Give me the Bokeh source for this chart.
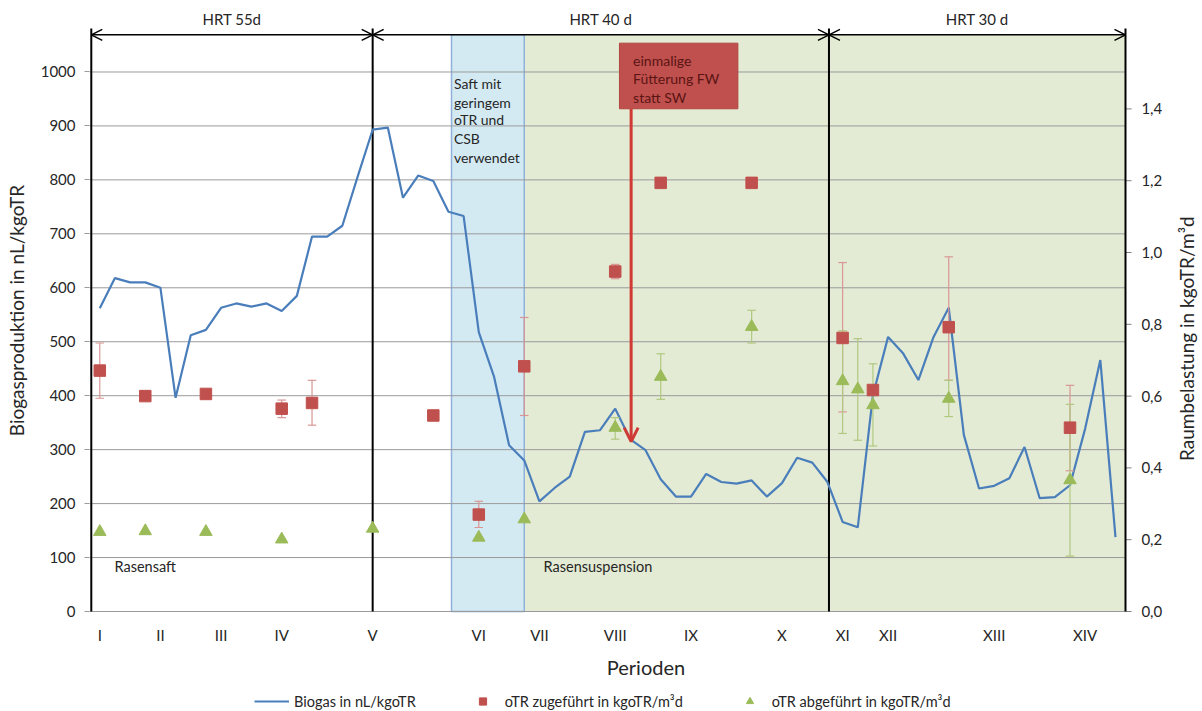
import math
from bokeh.plotting import figure
from bokeh.layouts import column
from bokeh.models import Range1d, FixedTicker, Arrow, OpenHead, Legend, LegendItem
from bokeh.core.properties import value
from bokeh.embed import file_html
from bokeh.resources import INLINE

FONT = "Lato"
TXT = "#262626"

# ---------------- data ----------------
period_idx = [0, 4, 8, 12, 18, 25, 29, 34, 39, 45, 49, 52, 59, 65]
period_lbl = ["I", "II", "III", "IV", "V", "VI", "VII", "VIII", "IX", "X", "XI", "XII", "XIII", "XIV"]

biogas = [562, 618, 610, 610, 600, 396, 512, 522, 563, 571,
          565, 571, 557, 585, 695, 695, 715, 805, 893, 897,
          767, 808, 798, 741, 733, 518, 436, 308, 280, 204,
          229, 250, 333, 336, 376, 319, 299, 245, 213, 213,
          255, 240, 237, 243, 213, 238, 285, 276, 240, 166,
          156, 401, 509, 478, 429, 509, 563, 327, 228, 233,
          247, 305, 210, 212, 234, 339, 466, 138]
biogas_x = list(range(len(biogas)))

zu_x = [0, 3, 7, 12, 14, 22, 25, 28, 34, 37, 43, 49, 51, 56, 64]
zu_y = [0.671, 0.600, 0.606, 0.565, 0.581, 0.546, 0.270, 0.683, 0.947, 1.194, 1.194, 0.762, 0.617, 0.792, 0.512]
zu_lo = [0.594, None, None, 0.540, 0.519, None, 0.234, 0.546, 0.927, None, None, 0.556, None, 0.644, 0.392]
zu_hi = [0.748, None, None, 0.589, 0.644, None, 0.307, 0.819, 0.967, None, None, 0.972, None, 0.988, 0.630]

ab_x = [0, 3, 7, 12, 18, 25, 28, 34, 37, 43, 49, 50, 51, 56, 64]
ab_y = [0.222, 0.224, 0.222, 0.201, 0.231, 0.206, 0.257, 0.512, 0.654, 0.793, 0.642, 0.619, 0.575, 0.593, 0.366]
ab_lo = [None, None, None, None, None, None, None, 0.480, 0.591, 0.748, 0.496, 0.477, 0.461, 0.543, 0.154]
ab_hi = [None, None, None, None, None, None, None, 0.540, 0.718, 0.839, 0.782, 0.760, 0.690, 0.644, 0.577]

left_ticks = list(range(0, 1001, 100))
right_ticks = [0.0, 0.2, 0.4, 0.6, 0.8, 1.0, 1.2, 1.4]
right_tick_lbl = [f"{t:.1f}".replace(".", ",") for t in right_ticks]
right_title = "Raumbelastung in kgoTR/m³d"

hrt_bounds = [-0.561, 18, 48.1, 67.66]
hrt_labels = ["HRT 55d", "HRT 40 d", "HRT 30 d"]
blue_span = [23.2, 28.0]
green_span = [28.0, 67.66]

legend_labels = ["Biogas in nL/kgoTR", "oTR zugeführt in kgoTR/m³d", "oTR abgeführt in kgoTR/m³d"]

# ---------------- geometry (index units: 15.16 px per step, point 0 at x=99.3 px) ----------------
X0, X1 = -0.679, 72.74
XR = hrt_bounds[-1]      # right axis position
YBOT, YTOP = -16.68, 1132.5   # frame bottom 9 px below zero, frame top at pixel 0
RBOT, RTOP = -0.02507, 1.702
LINE_TOP = 1080.6        # top of the black vertical lines
BAND_TOP = 1068.9        # top of shaded boxes / HRT arrows
HRT_TXT_Y = 1098.6

C_LINE = "#4A7EBB"
C_ZU = "#C0504D"
C_AB = "#9BBB59"

# ---------------- main figure ----------------
p = figure(width=1202, height=681, x_range=Range1d(X0, X1), y_range=Range1d(YBOT, YTOP),
           output_backend="svg", toolbar_location=None,
           min_border_left=89, min_border_right=0, min_border_top=0, min_border_bottom=61)
p.extra_y_ranges = {"right": Range1d(RBOT, RTOP)}
p.outline_line_color = None
p.background_fill_color = "white"

lt = FixedTicker(ticks=left_ticks)
p.yaxis.ticker = lt
p.grid.visible = False

p.xaxis.ticker = FixedTicker(ticks=period_idx)
p.xaxis.major_label_overrides = {i: l for i, l in zip(period_idx, period_lbl)}

for ax in [p.xaxis[0], p.yaxis[0]]:
    ax.major_label_text_font = FONT
    ax.major_label_text_font_size = "15px"
    ax.major_label_text_color = TXT
    ax.axis_label_text_font = FONT
    ax.axis_label_text_font_style = "normal"
    ax.axis_label_text_color = TXT
    ax.minor_tick_line_color = None

p.xaxis.axis_label = "Perioden"
p.xaxis.axis_label_text_font_size = "20px"
p.xaxis.major_tick_line_color = None
p.xaxis.major_tick_in = 0
p.xaxis.major_tick_out = 0
p.xaxis.axis_line_color = None
p.xaxis.major_label_standoff = 5
p.xaxis.axis_label_standoff = 8

p.yaxis.axis_label = "Biogasproduktion in nL/kgoTR"
p.yaxis.axis_label_text_font_size = "19px"
p.yaxis.axis_line_color = None
p.yaxis.major_tick_line_color = "#9A9A9A"
p.yaxis.major_tick_in = 0
p.yaxis.major_tick_out = 5
p.yaxis.major_label_standoff = 9
p.yaxis.axis_label_standoff = 10

# ---------------- shaded phases ----------------
p.quad(left=[green_span[0]], right=[green_span[1]], bottom=[0], top=[BAND_TOP],
       fill_color="#E3EBD4", line_color=None, level="image")
p.quad(left=[blue_span[0]], right=[blue_span[1]], bottom=[0], top=[BAND_TOP],
       fill_color="#D4EAF3", line_color="#8FB1DA", line_width=1.5, level="image")

# horizontal gridlines (left scale), ending at the right axis
p.segment(x0=[X0] * len(left_ticks), x1=[XR] * len(left_ticks), y0=left_ticks, y1=left_ticks,
          line_color="#9A9A9A", line_width=1, level="underlay")

# right axis: ticks, labels and title on the right scale
p.segment(x0=[XR] * len(right_ticks), x1=[XR + 0.4] * len(right_ticks), y0=right_ticks, y1=right_ticks,
          line_color="#808080", line_width=1, y_range_name="right")
p.text(x=[XR + 1.05] * len(right_ticks), y=right_ticks, text=right_tick_lbl, y_range_name="right",
       text_font=value(FONT), text_font_size="15px", text_color=TXT,
       text_align="left", text_baseline="middle")
p.text(x=[XR + 4.02], y=[0.76], text=[right_title], y_range_name="right", angle=math.pi / 2,
       text_font=value(FONT), text_font_size="19px", text_color=TXT,
       text_align="center", text_baseline="middle")

# phase boundaries (incl. axis edges)
p.segment(x0=hrt_bounds, x1=hrt_bounds, y0=[0] * 4, y1=[LINE_TOP] * 4,
          line_color="black", line_width=2)

# ---------------- series ----------------
p.line(biogas_x, biogas, line_color=C_LINE, line_width=2.2)


def err(xs, lo, hi, color):
    ex = [x for x, a in zip(xs, lo) if a is not None]
    el = [a for a in lo if a is not None]
    eh = [b for b in hi if b is not None]
    w = 0.28
    p.segment(x0=ex, x1=ex, y0=el, y1=eh, line_color=color, line_width=1.2, y_range_name="right")
    p.segment(x0=[x - w for x in ex] * 2, x1=[x + w for x in ex] * 2, y0=el + eh, y1=el + eh,
              line_color=color, line_width=1.2, y_range_name="right")


err(zu_x, zu_lo, zu_hi, "#D99694")
err(ab_x, ab_lo, ab_hi, "#B0C880")

p.scatter(zu_x, zu_y, marker="square", size=11.5, fill_color=C_ZU, line_color=C_ZU, y_range_name="right")
p.scatter(ab_x, ab_y, marker="triangle", size=12.5, fill_color=C_AB, line_color=C_AB, y_range_name="right")

# ---------------- annotations ----------------
for a, b in zip(hrt_bounds[:-1], hrt_bounds[1:]):
    p.add_layout(Arrow(x_start=a, x_end=b, y_start=BAND_TOP, y_end=BAND_TOP,
                       line_color="black", line_width=1.5,
                       start=OpenHead(size=11, line_color="black", line_width=1.5),
                       end=OpenHead(size=11, line_color="black", line_width=1.5)))
hrt_mid = [(a + b) / 2 for a, b in zip(hrt_bounds[:-1], hrt_bounds[1:])]
p.text(x=hrt_mid, y=[HRT_TXT_Y] * 3, text=hrt_labels, text_font=value(FONT), text_font_size="15px",
       text_color=TXT, text_align="center", text_baseline="middle")

# red note box with arrow
box_x = [34.28, 42.09]
box_y = [931.8, 1053.4]
arrow_x = 35.05
arrow_tip = 315
p.add_layout(Arrow(x_start=arrow_x, x_end=arrow_x, y_start=box_y[0], y_end=arrow_tip,
                   line_color="#D03A34", line_width=3,
                   end=OpenHead(size=14, line_color="#D03A34", line_width=3)))
p.quad(left=[box_x[0]], right=[box_x[1]], bottom=[box_y[0]], top=[box_y[1]],
       fill_color=C_ZU, line_color="#B04542", line_width=1)

red_lines = ["einmalige", "Fütterung FW", "statt SW"]
red_y = [1021.3, 987.4, 953.4]
p.text(x=[35.18] * 3, y=red_y, text=red_lines, text_font=value(FONT), text_font_size="14px",
       text_color="#5A1414", text_baseline="middle", text_align="left")

blue_lines = ["Saft mit", "geringem", "oTR und", "CSB", "verwendet"]
blue_y = [978.1, 944.0, 911.4, 876.2, 842.1]
p.text(x=[23.36] * 5, y=blue_y, text=blue_lines, text_font=value(FONT), text_font_size="14px",
       text_color=TXT, text_baseline="middle", text_align="left")

p.text(x=[0.97, 29.27], y=[83.4, 83.4], text=["Rasensaft", "Rasensuspension"],
       text_font=value(FONT), text_font_size="14.5px", text_color=TXT,
       text_baseline="middle", text_align="left")

# ---------------- legend strip (same series, drawn outside this strip's view) ----------------
q = figure(width=1202, height=30, x_range=Range1d(-1000, -999), y_range=Range1d(-1000, -999),
           x_axis_type=None, y_axis_type=None,
           output_backend="svg", toolbar_location=None,
           min_border_left=0, min_border_right=0, min_border_top=0, min_border_bottom=0)
q.grid.visible = False
q.outline_line_color = None
g1 = q.line(biogas_x, biogas, line_color=C_LINE, line_width=2.2)
g2 = q.scatter(zu_x, zu_y, marker="square", fill_color=C_ZU, line_color=C_ZU)
g3 = q.scatter(ab_x, ab_y, marker="triangle", fill_color=C_AB, line_color=C_AB)
legend = Legend(items=[LegendItem(label=l, renderers=[g]) for l, g in zip(legend_labels, [g1, g2, g3])],
                orientation="horizontal", location=(165, 1))
legend.label_text_font = FONT
legend.label_text_font_size = "14.5px"
legend.label_text_color = TXT
legend.border_line_color = None
legend.background_fill_alpha = 0
legend.glyph_width = 35
legend.glyph_height = 18
legend.spacing = 49
legend.padding = 4
legend.margin = 0
legend.label_standoff = 5
q.add_layout(legend)

open("out.html", "w").write(file_html(column(p, q, spacing=0), INLINE))
